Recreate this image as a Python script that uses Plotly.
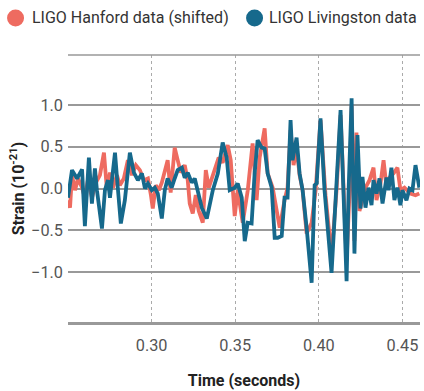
import plotly.graph_objects as go

# Livingston (blue)
liv_t = [0.2500, 0.2524, 0.2554, 0.2584, 0.2601, 0.2625, 0.2643, 0.2661, 0.2673, 0.2703,
         0.2721, 0.2739, 0.2751, 0.2781, 0.2799, 0.2816, 0.2840, 0.2870, 0.2894, 0.2918,
         0.2942, 0.2960, 0.2978, 0.3001, 0.3019, 0.3037, 0.3061, 0.3079, 0.3096, 0.3120,
         0.3138, 0.3156, 0.3181, 0.3198, 0.3216, 0.3240, 0.3258, 0.3276, 0.3300, 0.3330,
         0.3348, 0.3366, 0.3396, 0.3425, 0.3449, 0.3467, 0.3497, 0.3515, 0.3539, 0.3557,
         0.3575, 0.3598, 0.3616, 0.3634, 0.3658, 0.3676, 0.3694, 0.3718, 0.3736, 0.3754,
         0.3778, 0.3795, 0.3813, 0.3831, 0.3843, 0.3867, 0.3885, 0.3903, 0.3927, 0.3957,
         0.3975, 0.3987, 0.4010, 0.4034, 0.4076, 0.4106, 0.4130, 0.4154, 0.4166, 0.4178,
         0.4196, 0.4213, 0.4231, 0.4249, 0.4261, 0.4279, 0.4297, 0.4315, 0.4327, 0.4345,
         0.4363, 0.4381, 0.4405, 0.4417, 0.4434, 0.4452, 0.4470, 0.4488, 0.4500, 0.4524,
         0.4542, 0.4560, 0.4578, 0.4601]
liv_v = [-0.11, 0.22, 0.12, 0.23, -0.45, 0.37, -0.18, 0.24, -0.02, -0.48,
         -0.02, 0.10, -0.11, 0.43, -0.02, -0.42, -0.14, 0.43, 0.19, 0.10,
         0.18, 0.00, 0.06, -0.02, 0.01, -0.06, -0.36, -0.02, 0.12, 0.01,
         0.12, 0.22, 0.25, 0.13, 0.19, 0.07, 0.12, -0.02, -0.23, -0.36,
         -0.18, -0.02, 0.18, 0.55, 0.37, -0.02, 0.01, 0.06, -0.11, -0.63,
         -0.41, -0.42, 0.18, 0.58, 0.49, 0.48, 0.18, 0.01, -0.59, -0.59,
         -0.57, -0.11, -0.11, 0.82, 0.34, 0.61, 0.18, -0.02, -0.47, -1.13,
         0.04, 0.06, 0.84, -0.02, -1.01, -0.02, 0.94, -0.42, -1.11, -0.02,
         1.08, -0.78, 0.64, -0.24, 0.14, -0.23, 0.01, -0.20, 0.10, -0.06,
         0.12, -0.18, 0.13, -0.02, 0.25, -0.14, 0.01, -0.20, -0.02, -0.14,
         0.00, -0.02, 0.28, 0.01]

# Hanford shifted (red)
han_t = [0.2500, 0.2512, 0.2524, 0.2542, 0.2560, 0.2584, 0.2601, 0.2619, 0.2643, 0.2667,
         0.2691, 0.2715, 0.2733, 0.2751, 0.2769, 0.2793, 0.2810, 0.2834, 0.2858, 0.2882,
         0.2906, 0.2930, 0.2954, 0.2978, 0.2996, 0.3007, 0.3025, 0.3043, 0.3061, 0.3079,
         0.3096, 0.3114, 0.3138, 0.3156, 0.3175, 0.3198, 0.3216, 0.3228, 0.3246, 0.3264,
         0.3282, 0.3306, 0.3324, 0.3342, 0.3360, 0.3378, 0.3401, 0.3425, 0.3455, 0.3473,
         0.3497, 0.3515, 0.3527, 0.3545, 0.3575, 0.3604, 0.3628, 0.3646, 0.3676, 0.3694,
         0.3724, 0.3766, 0.3795, 0.3813, 0.3831, 0.3849, 0.3867, 0.3885, 0.3903, 0.3927,
         0.3957, 0.3981, 0.4010, 0.4040, 0.4076, 0.4106, 0.4130, 0.4154, 0.4166, 0.4184,
         0.4196, 0.4213, 0.4225, 0.4243, 0.4261, 0.4279, 0.4303, 0.4327, 0.4345, 0.4369,
         0.4387, 0.4405, 0.4422, 0.4446, 0.4470, 0.4488, 0.4512, 0.4530, 0.4548, 0.4578,
         0.4601]
han_v = [-0.14, -0.23, 0.16, -0.02, 0.12, 0.01, -0.11, 0.10, -0.11, 0.07,
         0.16, 0.43, -0.02, 0.19, 0.01, 0.16, 0.04, 0.12, 0.34, 0.16,
         0.28, 0.22, 0.10, 0.12, -0.08, -0.24, 0.04, -0.02, 0.07, 0.19,
         0.34, -0.05, 0.49, 0.34, 0.19, 0.28, 0.10, -0.18, -0.30, -0.08,
         -0.27, -0.41, 0.22, 0.01, 0.13, 0.22, 0.37, 0.31, 0.52, 0.34,
         -0.33, -0.02, -0.18, -0.41, -0.02, 0.54, -0.14, 0.37, 0.72, 0.18,
         0.01, -0.47, -0.14, 0.01, 0.70, 0.28, 0.49, 0.16, -0.02, -0.54,
         -0.41, -0.02, 0.82, -0.08, -0.81, -0.02, 0.88, -0.33, -0.87, -0.02,
         1.00, -0.63, 0.67, -0.27, -0.11, 0.01, 0.10, 0.25, -0.14, 0.06,
         0.34, 0.01, 0.13, 0.18, 0.25, -0.02, 0.01, -0.02, -0.06, -0.08,
         -0.06]

x_ticks = [0.30, 0.35, 0.40, 0.45]
x_labels = ["0.30", "0.35", "0.40", "0.45"]
y_ticks = [-1.0, -0.5, 0.0, 0.5, 1.0]
y_labels = ["\u22121.0", "\u22120.5", "0.0", "0.5", "1.0"]
series_names = ["LIGO Hanford data (shifted)", "LIGO Livingston data"]

RED = "#EE6B60"
BLUE = "#16698C"
FONT = "Roboto"

fig = go.Figure()
fig.add_trace(go.Scatter(x=han_t, y=han_v, mode="lines", name=series_names[0],
                         line=dict(color=RED, width=3.8), showlegend=False))
fig.add_trace(go.Scatter(x=liv_t, y=liv_v, mode="lines", name=series_names[1],
                         line=dict(color=BLUE, width=3.8), showlegend=False))

# manual legend (circle swatches + text), positioned in paper coordinates
leg_y = 1.1386
legend_items = [(-0.1490, -0.1080, RED, series_names[0]),
                (0.5300, 0.5650, BLUE, series_names[1])]
shapes = [dict(type="line", xref="paper", yref="paper", x0=0, x1=1, y0=1, y1=1,
               line=dict(color="#999999", width=1.5))]
annotations = []
for cx, tx, col, txt in legend_items:
    shapes.append(dict(type="circle", xref="paper", yref="paper",
                       xsizemode="pixel", ysizemode="pixel",
                       xanchor=cx, yanchor=leg_y, x0=-8.5, x1=8.5, y0=-8.5, y1=8.5,
                       fillcolor=col, line=dict(width=0)))
    annotations.append(dict(xref="paper", yref="paper", x=tx, y=leg_y,
                            xanchor="left", yanchor="middle", showarrow=False,
                            text=txt, font=dict(family=FONT, size=16, color="#333")))

fig.update_layout(
    width=424, height=391,
    margin=dict(l=68, r=4, t=55, b=69),
    paper_bgcolor="white", plot_bgcolor="white",
    font=dict(family=FONT, size=16, color="#444"),
    showlegend=False,
    xaxis=dict(range=[0.25, 0.4605], tickvals=x_ticks, ticktext=x_labels,
               showgrid=True, gridcolor="#AAAAAA", griddash="dot", gridwidth=1,
               showline=True, linecolor="#999999", linewidth=3, zeroline=False,
               ticks="", ticklabelstandoff=6, automargin=False,
               tickfont=dict(size=16.3, color="#555"),
               title=dict(text="<b>Time (seconds)</b>", font=dict(size=16, color="#222"), standoff=22)),
    yaxis=dict(range=[-1.6, 1.6], tickvals=y_ticks, ticktext=y_labels,
               showgrid=True, gridcolor="#999999", gridwidth=1.5, zeroline=False,
               showline=False, ticks="", automargin=False, ticklabelstandoff=4,
               tickfont=dict(size=16.3, color="#555"),
               title=dict(text="<b>Strain (10<sup>-21</sup>)</b>", font=dict(size=16, color="#222"), standoff=2)),
    shapes=shapes,
    annotations=annotations,
)

fig.write_html("out.html",
               config={"displayModeBar": False},
               post_script="document.body.style.margin='0';document.body.style.overflow='hidden';")
